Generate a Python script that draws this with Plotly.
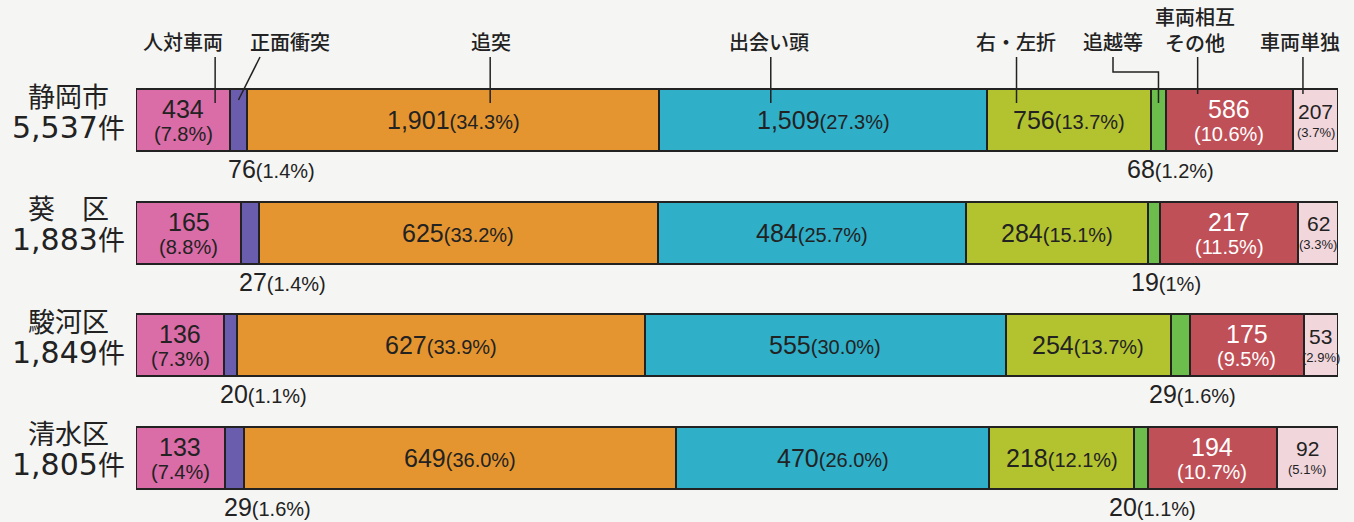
import numpy as np
import plotly.graph_objects as go

# 区ごとの事故件数（事故類型別）
regions = ["静岡市", "葵　区", "駿河区", "清水区"]
totals = [5537, 1883, 1849, 1805]

types = ["人対車両", "正面衝突", "追突", "出会い頭", "右・左折", "追越等", "車両相互その他", "車両単独"]

jintai = [434, 165, 136, 133]
shomen = [76, 27, 20, 29]
tsuitotsu = [1901, 625, 627, 649]
deaigashira = [1509, 484, 555, 470]
usetsu = [756, 284, 254, 218]
oikoshi = [68, 19, 29, 20]
sonota = [586, 217, 175, 194]
tandoku = [207, 62, 53, 92]

jintai_pct = ["7.8", "8.8", "7.3", "7.4"]
shomen_pct = ["1.4", "1.4", "1.1", "1.6"]
tsuitotsu_pct = ["34.3", "33.2", "33.9", "36.0"]
deaigashira_pct = ["27.3", "25.7", "30.0", "26.0"]
usetsu_pct = ["13.7", "15.1", "13.7", "12.1"]
oikoshi_pct = ["1.2", "1", "1.6", "1.1"]
sonota_pct = ["10.6", "11.5", "9.5", "10.7"]
tandoku_pct = ["3.7", "3.3", "2.9", "5.1"]

counts = [jintai, shomen, tsuitotsu, deaigashira, usetsu, oikoshi, sonota, tandoku]
pcts = [jintai_pct, shomen_pct, tsuitotsu_pct, deaigashira_pct, usetsu_pct,
        oikoshi_pct, sonota_pct, tandoku_pct]

colors = ["#DA6CA8", "#6B5DAE", "#E5952F", "#30AFC9", "#B3C22F", "#6DBD4C", "#BF5057", "#F1D6DC"]
# how each segment is labelled: 2 = two lines inside, 1 = one line inside, 0 = below bar, 3 = small two lines
label_mode = [2, 0, 1, 1, 1, 0, 2, 3]

W, H = 1354, 522
L, R, T, B = 136, 16, 64, 8
plot_w = W - L - R
plot_h = H - T - B


def px_x(px):
    return (px - L) / plot_w


def px_y(px):
    return (H - B - px) / plot_h


INK = "#222222"
NUM_FONT = "Liberation Sans"
JP_FONT = "Noto Sans CJK JP"

fig = go.Figure()
for name, vals, col in zip(types, counts, colors):
    fig.add_trace(go.Bar(
        y=regions, x=vals, orientation="h", name=name,
        marker=dict(color=col, line=dict(color=INK, width=2)),
        textposition="none", hoverinfo="skip",
    ))

annotations = []
shares = np.array(counts, dtype=float) / np.array(totals, dtype=float) * 100
cum_end = np.cumsum(shares, axis=0)
cum_start = cum_end - shares


def note(x, y, text, size, color=INK, family=NUM_FONT, xshift=0, yshift=0, xref="x"):
    annotations.append(dict(x=x, y=y, xref=xref, yref="y", text=text, showarrow=False,
                            xanchor="center", yanchor="middle",
                            xshift=xshift, yshift=yshift,
                            font=dict(family=family, size=size, color=color)))


for k in range(len(types)):
    for r, region in enumerate(regions):
        mid = (cum_start[k, r] + cum_end[k, r]) / 2
        v = f"{counts[k][r]:,}"
        p = f"({pcts[k][r]}%)"
        mode = label_mode[k]
        txtcol = "white" if k == 6 else INK
        if mode == 1:
            note(mid, region, f"{v}<span style='font-size:20px'>{p}</span>", 25, txtcol)
        elif mode == 2:
            note(mid, region, v, 25, txtcol, yshift=11)
            note(mid, region, p, 20, txtcol, yshift=-14)
        elif mode == 3:
            fam = "Liberation Sans Narrow, Liberation Sans"
            note(mid, region, v, 21, txtcol, family=fam, yshift=9)
            note(mid, region, p, 13, txtcol, family=fam, yshift=-12)
        else:
            shift = 33 if k == 1 else 12
            note(mid, region, f"{v}<span style='font-size:20px'>{p}</span>", 25, INK,
                 xshift=shift, yshift=-49)

# 区名と合計件数
for region, tot in zip(regions, totals):
    fam = f"DejaVu Sans, {JP_FONT}"
    note(px_x(68), region, region, 27, family=fam, yshift=23, xref="paper")
    note(px_x(68), region, f"{tot:,}<span style='font-size:27px'>件</span>", 30,
         family=fam, yshift=-7, xref="paper")

# 類型名（上部）
head_x = [183, 290, 491, 769, 1016, 1113, 1195, 1300]
head_y = [42, 42, 42, 42, 42, 42, 30, 42]
head_text = ["人対車両", "正面衝突", "追突", "出会い頭", "右・左折", "追越等",
             "車両相互<br>その他", "車両単独"]
head_font = dict(family=JP_FONT, size=20, color=INK, weight=500)
for hx, hy, ht in zip(head_x, head_y, head_text):
    annotations.append(dict(x=px_x(hx), y=px_y(hy), xref="paper", yref="paper",
                            xanchor="center", yanchor="middle",
                            text=ht, showarrow=False, font=head_font))

# 引き出し線（静岡市の棒へ）
frac = [0.84, 0.5, 0.59, 0.34, 0.18, 0.5, 0.25, 0.22]
line_end = [103, 100, 103, 103, 103, 103, 94, 94]
shapes = []
for k in range(len(types)):
    lx = (cum_start[k, 0] + frac[k] * shares[k, 0]) / 100
    ln = dict(color=INK, width=1.5)
    if k == 1:
        shapes.append(dict(type="line", xref="paper", yref="paper",
                           x0=px_x(260), y0=px_y(57), x1=lx, y1=px_y(line_end[k]), line=ln))
    elif k == 5:
        path = (f"M {px_x(1113)},{px_y(57)} L {px_x(1113)},{px_y(72)} "
                f"L {lx},{px_y(72)} L {lx},{px_y(line_end[k])}")
        shapes.append(dict(type="path", xref="paper", yref="paper", path=path, line=ln))
    else:
        shapes.append(dict(type="line", xref="paper", yref="paper",
                           x0=lx, y0=px_y(57), x1=lx, y1=px_y(line_end[k]), line=ln))

fig.update_layout(
    width=W, height=H,
    barmode="stack", barnorm="percent", bargap=0.45,
    showlegend=False,
    paper_bgcolor="#F5F5F3", plot_bgcolor="#F5F5F3",
    margin=dict(l=L, r=R, t=T, b=B),
    xaxis=dict(range=[0, 100], visible=False, fixedrange=True),
    yaxis=dict(type="category", range=[len(regions) - 0.5, -0.5],
               visible=False, fixedrange=True),
    annotations=annotations,
    shapes=shapes,
)

fig.write_html("out.html", config={"displayModeBar": False},
               post_script="document.body.style.margin='0';document.body.style.overflow='hidden';")
